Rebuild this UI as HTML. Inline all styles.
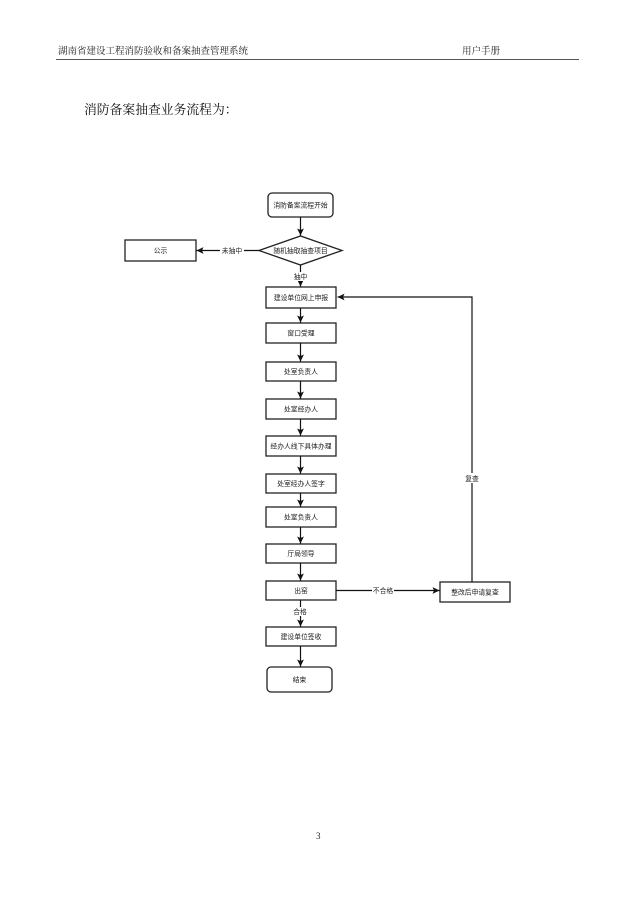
<!DOCTYPE html>
<html>
<head>
<meta charset="utf-8">
<style>
  html,body{margin:0;padding:0;background:#fff;}
  body{width:635px;height:898px;position:relative;overflow:hidden;}
  .serif{font-family:"Liberation Serif","Noto Serif CJK SC",serif;}
  .hdr{position:absolute;top:46px;font-size:9.5px;color:#222;line-height:12px;white-space:nowrap;}
  .rule{position:absolute;left:56px;top:59px;width:523px;height:1px;background:#555;}
  .title{position:absolute;left:84px;top:102px;font-size:12.8px;color:#111;line-height:16px;white-space:nowrap;}
  .pg{position:absolute;left:316px;top:831px;font-size:9px;color:#222;}
  svg{position:absolute;left:0;top:0;}
  svg text{font-family:"Liberation Sans","Noto Sans CJK SC",sans-serif;font-size:6.8px;fill:#222;}
</style>
</head>
<body>
<div class="hdr serif" style="left:58px;">湖南省建设工程消防验收和备案抽查管理系统</div>
<div class="hdr serif" style="left:462px;">用户手册</div>
<div class="rule"></div>
<div class="title serif">消防备案抽查业务流程为：</div>

<svg width="635" height="898" viewBox="0 0 635 898" xmlns="http://www.w3.org/2000/svg">
  <defs>
    <marker id="ah" markerWidth="8" markerHeight="8" refX="7" refY="4" orient="auto" markerUnits="userSpaceOnUse">
      <path d="M0,0.6 L7,4 L0,7.4 L1.5,4 Z" fill="#111"/>
    </marker>
  </defs>
  <g stroke="#222" stroke-width="1.3" fill="#fff">
    <rect x="268" y="193" width="65" height="24" rx="4"/>
    <polygon points="259,250.5 300.5,236 342,250.5 300.5,265"/>
    <rect x="125" y="240" width="71" height="21"/>
    <rect x="266" y="287" width="70" height="21"/>
    <rect x="266" y="323" width="70" height="20"/>
    <rect x="266" y="362" width="70" height="19"/>
    <rect x="266" y="399" width="70" height="20"/>
    <rect x="266" y="436" width="70" height="20"/>
    <rect x="266" y="474" width="70" height="19"/>
    <rect x="266" y="507" width="70" height="20"/>
    <rect x="266" y="544" width="70" height="19"/>
    <rect x="266" y="581" width="70" height="19"/>
    <rect x="266" y="627" width="70" height="19"/>
    <rect x="267" y="667" width="65" height="25" rx="4"/>
    <rect x="440" y="582" width="70" height="20"/>
  </g>
  <g stroke="#111" stroke-width="1.2" fill="none" marker-end="url(#ah)">
    <line x1="300.5" y1="217" x2="300.5" y2="235.5"/>
    <line x1="300.5" y1="265" x2="300.5" y2="286.5"/>
    <line x1="259" y1="250.5" x2="196.5" y2="250.5"/>
    <line x1="300.5" y1="308" x2="300.5" y2="322.5"/>
    <line x1="300.5" y1="343" x2="300.5" y2="361.5"/>
    <line x1="300.5" y1="381" x2="300.5" y2="398.5"/>
    <line x1="300.5" y1="419" x2="300.5" y2="435.5"/>
    <line x1="300.5" y1="456" x2="300.5" y2="473.5"/>
    <line x1="300.5" y1="493" x2="300.5" y2="506.5"/>
    <line x1="300.5" y1="527" x2="300.5" y2="543.5"/>
    <line x1="300.5" y1="563" x2="300.5" y2="580.5"/>
    <line x1="300.5" y1="600" x2="300.5" y2="626.5"/>
    <line x1="300.5" y1="646" x2="300.5" y2="666.5"/>
    <line x1="336" y1="590.5" x2="439.5" y2="590.5"/>
    <polyline points="472,582 472,297 337.5,297"/>
  </g>
  <g fill="#fff">
    <rect x="220" y="246" width="24" height="9"/>
    <rect x="293" y="272" width="15" height="9"/>
    <rect x="292" y="607" width="16" height="9"/>
    <rect x="372" y="586" width="22" height="9"/>
    <rect x="464" y="473" width="16" height="10"/>
  </g>
  <g text-anchor="middle">
    <text x="300.5" y="207.5">消防备案流程开始</text>
    <text x="300.5" y="253">随机抽取抽查项目</text>
    <text x="160.5" y="253">公示</text>
    <text x="232" y="253">未抽中</text>
    <text x="300.5" y="279">抽中</text>
    <text x="301" y="300">建设单位网上申报</text>
    <text x="301" y="335.5">窗口受理</text>
    <text x="301" y="374">处室负责人</text>
    <text x="301" y="411.5">处室经办人</text>
    <text x="301" y="448.5">经办人线下具体办理</text>
    <text x="301" y="486">处室经办人签字</text>
    <text x="301" y="519.5">处室负责人</text>
    <text x="301" y="556">厅局领导</text>
    <text x="301" y="593">出窑</text>
    <text x="300" y="614">合格</text>
    <text x="301" y="639">建设单位签收</text>
    <text x="299.5" y="682">结束</text>
    <text x="383" y="593">不合格</text>
    <text x="475" y="594.5">整改后申请复查</text>
    <text x="472" y="481">复查</text>
  </g>
</svg>

<div class="pg serif">3</div>
</body>
</html>
